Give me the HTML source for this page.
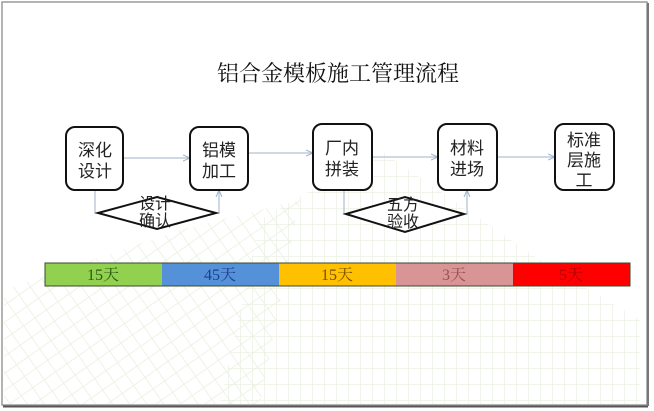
<!DOCTYPE html>
<html><head><meta charset="utf-8"><style>
body{margin:0;background:#fff;}
svg{display:block}
.t{font-family:"Liberation Sans","Noto Sans CJK SC",sans-serif;font-size:17px;fill:#222;text-anchor:middle}
.b{font-family:"Liberation Serif","Noto Serif CJK SC",serif;font-size:16px;text-anchor:middle}
</style></head><body>
<svg width="654" height="411" viewBox="0 0 654 411" xmlns="http://www.w3.org/2000/svg">
<defs>
<marker id="a" markerWidth="8" markerHeight="8" refX="7" refY="4" orient="auto" markerUnits="userSpaceOnUse">
<path d="M0,1 L7,4 L0,7" fill="none" stroke="#9fb3c8" stroke-width="1"/></marker>
<pattern id="g" width="14" height="14" patternUnits="userSpaceOnUse" patternTransform="rotate(-35)">
<path d="M0,0 H14 M0,0 V14" stroke="#e6eedb" stroke-width="1.5" fill="none"/></pattern>
<pattern id="g2" width="12" height="16" patternUnits="userSpaceOnUse">
<path d="M0,0 H12 M0,0 V16" stroke="#e9efdf" stroke-width="1.5" fill="none"/></pattern>
</defs>
<rect x="0" y="0" width="654" height="411" fill="#fff"/>
<rect x="2" y="2" width="645" height="403" fill="#fff" stroke="#9a9a9a" stroke-width="1.5"/>
<line x1="3" y1="406.5" x2="648" y2="406.5" stroke="#555" stroke-width="2"/>
<line x1="648" y1="3" x2="648" y2="406" stroke="#777" stroke-width="2"/>
<polygon points="4,404 4,290 180,230 300,200 260,404" fill="url(#g)" opacity="0.9"/>
<polygon points="220,404 260,220 380,150 540,260 640,320 640,404" fill="url(#g2)" opacity="0.9"/>
<text x="338" y="81" font-family="Liberation Serif,'Noto Serif CJK SC',serif" font-size="22" text-anchor="middle" fill="#111">铝合金模板施工管理流程</text>
<g fill="none" stroke="#9fb3c8" stroke-width="1">
<line x1="123" y1="158" x2="190" y2="158" marker-end="url(#a)"/>
<line x1="248" y1="153" x2="313" y2="153" marker-end="url(#a)"/>
<line x1="372" y1="157" x2="438" y2="157" marker-end="url(#a)"/>
<line x1="497" y1="157" x2="555" y2="157" marker-end="url(#a)"/>
<polyline points="95,190 95,213 99,213"/>
<polyline points="215,213 219,213 219,190" marker-end="url(#a)"/>
<polyline points="344,190 344,214 347,214"/>
<polyline points="464,214 467,214 467,190" marker-end="url(#a)"/>
</g>
<g fill="#fff" stroke="#111" stroke-width="2">
<rect x="66" y="127" width="57" height="63" rx="9"/>
<rect x="190" y="127" width="58" height="63" rx="9"/>
<rect x="313" y="124" width="59" height="66" rx="9"/>
<rect x="438" y="124" width="59" height="66" rx="9"/>
<rect x="555" y="124" width="59" height="66" rx="9"/>
<polygon points="98,213 157,197 216,213 157,229" fill="#fff"/>
<polygon points="346,214 405,197 464,214 405,232" fill="#fff"/>
</g>
<text class="t" x="95" y="156">深化</text><text class="t" x="95" y="177">设计</text>
<text class="t" x="219" y="156">铝模</text><text class="t" x="219" y="177">加工</text>
<text class="t" x="342" y="154">厂内</text><text class="t" x="342" y="175">拼装</text>
<text class="t" x="467" y="154">材料</text><text class="t" x="467" y="175">进场</text>
<text class="t" x="584" y="146">标准</text><text class="t" x="584" y="166">层施</text><text class="t" x="584" y="186">工</text>
<text class="t" x="155" y="209" style="font-size:16px">设计</text><text class="t" x="155" y="226" style="font-size:16px">确认</text>
<text class="t" x="403" y="210" style="font-size:16px">五方</text><text class="t" x="403" y="227" style="font-size:16px">验收</text>
<rect x="45" y="263" width="117" height="23" fill="#92d050"/>
<rect x="162" y="263" width="117" height="23" fill="#5591d8"/>
<rect x="279" y="263" width="117" height="23" fill="#ffc000"/>
<rect x="396" y="263" width="117" height="23" fill="#d99595"/>
<rect x="513" y="263" width="117" height="23" fill="#ff0000"/>
<rect x="45" y="263" width="585" height="23" fill="none" stroke="#3a4a2a" stroke-width="1"/>
<text class="b" x="103" y="280" fill="#2a5a10">15天</text>
<text class="b" x="220" y="280" fill="#1f3f8a">45天</text>
<text class="b" x="337" y="280" fill="#7a5000">15天</text>
<text class="b" x="454" y="280" fill="#9a5050">3天</text>
<text class="b" x="571" y="280" fill="#b00000">5天</text>
</svg>
</body></html>
